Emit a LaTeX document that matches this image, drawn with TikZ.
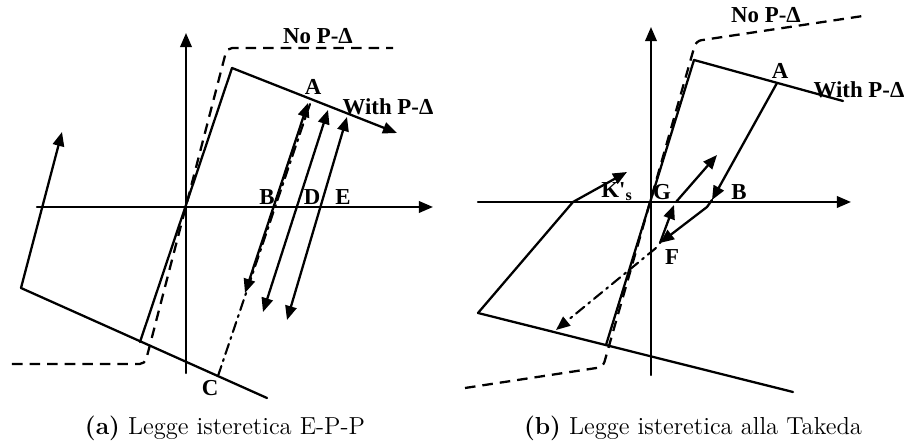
\documentclass[tikz,border=0pt]{standalone}
\usepackage{fontspec}
\newfontfamily\lblfont{Liberation Serif}
\usepackage{tkz-euclide}
\usetikzlibrary{arrows.meta}

\tikzset{
	curve/.style={line width=1.3pt},
	nopd/.style={line width=1.3pt, dash pattern=on 6pt off 4pt, rounded corners=3pt},
	dashdot/.style={line width=1.2pt, dash pattern=on 6pt off 3pt on 1.2pt off 3pt},
	lbl/.style={font=\lblfont\bfseries\fontsize{13}{13}\selectfont, inner sep=1pt},
	capt/.style={font=\fontsize{14}{16}\selectfont, inner sep=0pt},
	>={Triangle[length=8pt,width=6.5pt]}
}

\begin{document}
\begin{tikzpicture}
		\useasboundingbox (-3.72,-4.76) rectangle (14.40,4.14);

		% (a) E-P-P
		\tkzDefPoint(0,0){O}
		\tkzDefPoint(-2.98,0){Xa} \tkzDefPoint(4.94,0){Xb}
		\tkzDefPoint(0,-3.32){Ya} \tkzDefPoint(0,3.48){Yb}
		\tkzDrawSegment[curve,->](Xa,Xb)
		\tkzDrawSegment[curve,->](Ya,Yb)

		\tkzDefPoint(0.92,2.78){Y1}
		\tkzDefPoint(-0.92,-2.70){Y2}
		\tkzDefPoint(4.22,1.48){U}
		\tkzDefPoint(-3.30,-1.62){L}
		\tkzDefPoint(-2.48,1.50){R}
		\tkzDefPoint(1.62,-3.82){W}

		\tkzDrawSegment[curve](Y2,Y1)
		\tkzDrawSegment[curve,->](Y1,U)
		\tkzDrawSegment[curve](L,W)
		\tkzDrawSegment[curve,->](L,R)

		\tkzDefPoint(-3.48,-3.14){N1} \tkzDefPoint(-0.82,-3.14){N2}
		\tkzDefPoint(0.82,3.18){N3} \tkzDefPoint(4.14,3.18){N4}
		\draw[nopd] (N1) -- (N2) -- (N3) -- (N4);

		\tkzDefPoint(2.44,2.08){A1} \tkzDefPoint(1.18,-1.72){A2}
		\tkzDefPoint(2.84,1.94){D1} \tkzDefPoint(1.54,-2.10){D2}
		\tkzDefPoint(3.22,1.80){E1} \tkzDefPoint(2.02,-2.26){E2}
		\tkzDefPoint(0.64,-3.38){C}
		\tkzDefPoint(2.48,2.06){Cup}

		\tkzDrawSegment[dashdot](C,Cup)
		\tkzDrawSegment[curve,<->](A2,A1)
		\tkzDrawSegment[curve,<->](D2,D1)
		\tkzDrawSegment[curve,<->](E2,E1)

		\node[lbl] (la) at (2.54,2.40) {A};
		\node[lbl] (lb) at (1.62,0.20) {B};
		\node[lbl] (ld) at (2.52,0.20) {D};
		\node[lbl] (le) at (3.14,0.20) {E};
		\node[lbl] (lc) at (0.48,-3.62) {C};
		\node[lbl] (lwith) at (4.04,2.00) {With P-Δ};
		\node[lbl] (lno) at (2.64,3.42) {No P-Δ};

		% (b) Takeda
		\begin{scope}[shift={(9.30,0.10)}]
			\tkzDefPoint(0,0){Ot}
			\tkzDefPoint(-3.46,0){Xta} \tkzDefPoint(4.00,0){Xtb}
			\tkzDefPoint(0,-3.46){Yta} \tkzDefPoint(0,3.50){Ytb}
			\tkzDrawSegment[curve,->](Xta,Xtb)
			\tkzDrawSegment[curve,->](Yta,Ytb)

			\tkzDefPoint(0.86,2.84){Yt1}
			\tkzDefPoint(-0.90,-2.86){Yt2}
			\tkzDefPoint(3.84,2.02){Ut}
			\tkzDefPoint(-3.46,-2.22){Lt}
			\tkzDefPoint(2.84,-3.80){Wt}
			\tkzDefPoint(-1.56,0){Kt}
			\tkzDefPoint(-0.48,0.60){Kr}

			\tkzDrawSegment[curve](Yt2,Yt1)
			\tkzDrawSegment[curve](Yt1,Ut)
			\tkzDrawSegment[curve](Lt,Wt)
			\tkzDrawSegment[curve](Lt,Kt)
			\tkzDrawSegment[curve,->](Kt,Kr)

			\tkzDefPoint(-3.72,-3.72){Nt1} \tkzDefPoint(-0.96,-3.30){Nt2}
			\tkzDefPoint(0.90,3.22){Nt3} \tkzDefPoint(4.24,3.72){Nt4}
			\draw[nopd] (Nt1) -- (Nt2) -- (Nt3) -- (Nt4);

			\tkzDefPoint(2.52,2.38){At}
			\tkzDefPoint(1.22,0.04){Bt}
			\tkzDefPoint(1.12,-0.10){Bk}
			\tkzDefPoint(0.18,-0.82){Ft}
			\tkzDefPoint(0.46,-0.06){Gt}
			\tkzDefPoint(0.50,0){Gs}
			\tkzDefPoint(1.32,0.94){Tt}
			\tkzDefPoint(0.10,-0.92){Fd}
			\tkzDefPoint(-1.90,-2.56){Pt}

			\tkzDrawSegment[curve,->](At,Bt)
			\tkzDrawSegment[curve](Bt,Bk)
			\tkzDrawSegment[curve,->](Bk,Ft)
			\tkzDrawSegment[curve,->](Ft,Gt)
			\tkzDrawSegment[curve,->](Gs,Tt)
			\tkzDrawSegment[dashdot,->](Fd,Pt)

			\node[lbl] (lta) at (2.58,2.62) {A};
			\node[lbl] (ltb) at (1.76,0.20) {B};
			\node[lbl] (ltg) at (0.22,0.20) {G};
			\node[lbl] (ltf) at (0.42,-1.10) {F};
			\node[lbl] (ltk) at (-0.68,0.20) {K'\textsubscript{s}};
			\node[lbl] (ltwith) at (4.16,2.24) {With P-Δ};
			\node[lbl] (ltno) at (2.30,3.74) {No P-Δ};
		\end{scope}

		\node[capt] (capa) at (0.78,-4.42) {\textbf{(a)} Legge isteretica E-P-P};
		\node[capt] (capb) at (10.14,-4.42) {\textbf{(b)} Legge isteretica alla Takeda};
	\end{tikzpicture}
\end{document}
